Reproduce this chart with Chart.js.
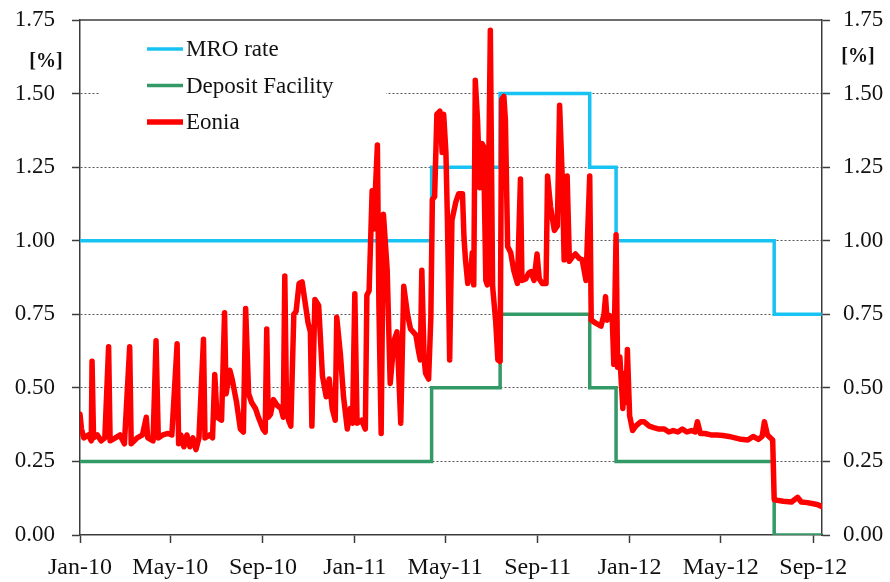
<!DOCTYPE html>
<html>
<head>
<meta charset="utf-8">
<script src="https://cdn.jsdelivr.net/npm/chart.js@4/dist/chart.umd.min.js"></script>
<style>
  html, body { margin: 0; padding: 0; background: #fff; }
  canvas { display: block; }
</style>
</head>
<body>
<canvas id="chart" width="890" height="582"></canvas>
<script>
// x axis: days since 1 Jan 2010
const xTickLabels = ['Jan-10', 'May-10', 'Sep-10', 'Jan-11', 'May-11', 'Sep-11', 'Jan-12', 'May-12', 'Sep-12'];
const yTicks = [0, 0.25, 0.5, 0.75, 1.0, 1.25, 1.5, 1.75];

// ECB policy rate changes
const policyDates = ['2010-01-01', '2011-04-13', '2011-07-13', '2011-11-09', '2011-12-14', '2012-07-11', '2012-09-12'];
const mroRate = [1.00, 1.25, 1.50, 1.25, 1.00, 0.75, 0.75];
const depositRate = [0.25, 0.50, 0.75, 0.50, 0.25, 0.00, 0.00];

// Eonia, [day, %]
const eonia = [
  [0, 0.41], [2, 0.36], [5, 0.33], [11, 0.34], [15, 0.32], [16, 0.59], [18, 0.33], [23, 0.34],
  [28, 0.32], [33, 0.33], [38, 0.64], [40, 0.32], [47, 0.33], [53, 0.34], [59, 0.31], [66, 0.64],
  [68, 0.31], [76, 0.33], [83, 0.34], [88, 0.40], [90, 0.33], [97, 0.32], [101, 0.66], [104, 0.33],
  [110, 0.34], [117, 0.345], [122, 0.34], [129, 0.65], [131, 0.31], [134, 0.34], [138, 0.30], [142, 0.34],
  [146, 0.30], [150, 0.33], [154, 0.29], [158, 0.33], [164, 0.665], [166, 0.33], [172, 0.34], [176, 0.33],
  [179, 0.545], [182, 0.40], [188, 0.39], [192, 0.755], [194, 0.48], [199, 0.56], [202, 0.53], [208, 0.45],
  [213, 0.36], [217, 0.35], [220, 0.77], [224, 0.48], [228, 0.45], [233, 0.43], [237, 0.40], [243, 0.36],
  [246, 0.35], [248, 0.70], [250, 0.40], [253, 0.41], [257, 0.46], [262, 0.44], [267, 0.43], [270, 0.40],
  [272, 0.88], [274, 0.50], [277, 0.39], [280, 0.37], [284, 0.75], [287, 0.76], [291, 0.855], [295, 0.86],
  [299, 0.79], [303, 0.72], [306, 0.69], [308, 0.37], [312, 0.80], [317, 0.78], [322, 0.54], [327, 0.47],
  [331, 0.53], [335, 0.43], [339, 0.39], [341, 0.74], [346, 0.61], [350, 0.47], [355, 0.36], [359, 0.43],
  [362, 0.38], [365, 0.82], [368, 0.38], [374, 0.39], [379, 0.36], [381, 0.815], [384, 0.83], [388, 1.17],
  [390, 1.04], [395, 1.325], [397, 0.78], [400, 0.345], [403, 1.09], [408, 0.90], [412, 0.515], [417, 0.66],
  [421, 0.69], [426, 0.38], [430, 0.845], [435, 0.75], [439, 0.70], [446, 0.68], [450, 0.62], [452, 0.595],
  [454, 0.90], [457, 0.60], [459, 0.55], [463, 0.53], [466, 0.74], [468, 1.14], [471, 1.15], [474, 1.43],
  [478, 1.44], [481, 1.30], [483, 1.43], [486, 1.30], [488, 1.07], [491, 0.595], [494, 1.07], [499, 1.13],
  [503, 1.16], [508, 1.16], [510, 1.01], [512, 0.935], [515, 0.855], [519, 0.89], [521, 0.96], [523, 0.85],
  [525, 1.545], [528, 1.41], [531, 1.18], [534, 1.33], [536, 1.32], [539, 0.865], [541, 0.85], [545, 1.715],
  [548, 0.845], [552, 0.73], [555, 0.595], [558, 0.59], [560, 1.48], [563, 1.49], [565, 1.41], [568, 0.98],
  [572, 0.96], [576, 0.90], [581, 0.855], [585, 1.21], [587, 0.865], [592, 0.87], [596, 0.89], [599, 0.895],
  [603, 0.865], [607, 0.955], [610, 0.87], [614, 0.855], [619, 0.855], [621, 1.22], [625, 1.115], [630, 1.035],
  [634, 1.05], [637, 1.46], [641, 1.18], [643, 0.935], [647, 1.22], [650, 0.93], [654, 0.945], [658, 0.955],
  [663, 0.94], [667, 0.935], [672, 0.865], [677, 1.22], [679, 0.73], [685, 0.72], [692, 0.71], [696, 0.75],
  [698, 0.81], [700, 0.73], [704, 0.745], [707, 0.73], [709, 0.58], [712, 1.02], [714, 0.57], [717, 0.605],
  [721, 0.43], [723, 0.55], [725, 0.45], [727, 0.63], [730, 0.405], [734, 0.355], [738, 0.37], [745, 0.385],
  [749, 0.385], [756, 0.37], [762, 0.365], [769, 0.36], [776, 0.36], [782, 0.35], [788, 0.355], [794, 0.35],
  [800, 0.36], [806, 0.35], [812, 0.355], [817, 0.35], [820, 0.385], [824, 0.345], [830, 0.345], [838, 0.34],
  [846, 0.34], [854, 0.338], [862, 0.335], [870, 0.33], [878, 0.325], [887, 0.323], [894, 0.335], [901, 0.325],
  [906, 0.335], [909, 0.385], [913, 0.34], [920, 0.323], [922, 0.12], [926, 0.118], [934, 0.115], [945, 0.112],
  [953, 0.128], [958, 0.112], [966, 0.11], [974, 0.106], [980, 0.103], [985, 0.097],
];

const MONTHS = ['Jan', 'Feb', 'Mar', 'Apr', 'May', 'Jun', 'Jul', 'Aug', 'Sep', 'Oct', 'Nov', 'Dec'];
const ORIGIN = Date.UTC(2010, 0, 1);
const DAY_MS = 86400000;

function dayFromIso(iso) {
  const [y, m, d] = iso.split('-').map(Number);
  return Math.round((Date.UTC(y, m - 1, d) - ORIGIN) / DAY_MS);
}

function dayFromLabel(label) {
  const [mon, yy] = label.split('-');
  return Math.round((Date.UTC(2000 + Number(yy), MONTHS.indexOf(mon), 1) - ORIGIN) / DAY_MS);
}

const xTickDays = xTickLabels.map(dayFromLabel);
const policyDays = policyDates.map(dayFromIso);

const COLORS = {
  mro: '#17C3F2',
  deposit: '#339966',
  eonia: '#FF0000',
  axis: '#3c3c3c',
  grid: '#5a5a5a',
  text: '#111111',
};

const FONT = 'Liberation Serif';
Chart.defaults.font.family = FONT;
Chart.defaults.color = COLORS.text;

const legendItems = [
  { text: 'MRO rate', color: COLORS.mro, width: 3.5 },
  { text: 'Deposit Facility', color: COLORS.deposit, width: 3.5 },
  { text: 'Eonia', color: COLORS.eonia, width: 5.5 },
];

// Legend box sits inside the plot and hides the 1.50 grid line behind it
const chartDecor = {
  id: 'chartDecor',
  beforeDatasetsDraw(chart) {
    const { ctx, chartArea } = chart;
    ctx.save();
    ctx.fillStyle = '#fff';
    ctx.fillRect(chartArea.left + 20, chartArea.top + 10, 286, 120);
    ctx.strokeStyle = COLORS.axis;
    ctx.lineWidth = 1.5;
    ctx.beginPath();
    ctx.moveTo(chartArea.left, chartArea.top);
    ctx.lineTo(chartArea.right, chartArea.top);
    ctx.stroke();
    ctx.restore();
  },
  afterDraw(chart) {
    const { ctx, chartArea } = chart;
    ctx.save();
    ctx.font = `23px "${FONT}"`;
    ctx.textBaseline = 'middle';
    ctx.textAlign = 'left';
    legendItems.forEach((item, i) => {
      const y = chartArea.top + 29 + i * 36.5;
      const x0 = chartArea.left + 67;
      ctx.strokeStyle = item.color;
      ctx.lineWidth = item.width;
      ctx.beginPath();
      ctx.moveTo(x0, y);
      ctx.lineTo(x0 + 36, y);
      ctx.stroke();
      ctx.fillStyle = COLORS.text;
      ctx.fillText(item.text, x0 + 39, y + 1);
    });

    // [%] unit labels on both sides
    ctx.font = `bold 20px "${FONT}"`;
    ctx.textAlign = 'center';
    ctx.fillText('[%]', 46, 62);
    ctx.fillText('[%]', 858, 57);
    ctx.restore();
  },
};

const yAxisCommon = {
  type: 'linear',
  min: 0,
  max: 1.75,
  afterBuildTicks(axis) {
    axis.ticks = yTicks.map((v) => ({ value: v }));
  },
  ticks: {
    font: { size: 23 },
    color: COLORS.text,
    callback: (v) => Number(v).toFixed(2),
  },
  border: { color: COLORS.axis, width: 1.5, dash: [2, 2] },
};

new Chart(document.getElementById('chart'), {
  type: 'line',
  data: {
    datasets: [
      {
        label: 'Eonia',
        data: eonia.map(([d, v]) => ({ x: d, y: v })),
        borderColor: COLORS.eonia,
        borderWidth: 5.5,
        borderJoinStyle: 'round',
        borderCapStyle: 'round',
        pointRadius: 0,
        tension: 0,
        order: 0,
      },
      {
        label: 'Deposit Facility',
        data: policyDays.map((d, i) => ({ x: d, y: depositRate[i] })),
        borderColor: COLORS.deposit,
        borderWidth: 3.5,
        stepped: 'before',
        pointRadius: 0,
        order: 1,
      },
      {
        label: 'MRO rate',
        data: policyDays.map((d, i) => ({ x: d, y: mroRate[i] })),
        borderColor: COLORS.mro,
        borderWidth: 3.5,
        stepped: 'before',
        pointRadius: 0,
        order: 2,
      },
    ],
  },
  options: {
    responsive: false,
    animation: false,
    layout: { padding: { top: 20, left: 0, right: 0, bottom: 0 } },
    plugins: {
      legend: { display: false },
      tooltip: { enabled: false },
    },
    scales: {
      x: {
        type: 'linear',
        min: 0,
        max: 985.5,
        afterBuildTicks(axis) {
          axis.ticks = xTickDays.map((v) => ({ value: v }));
        },
        afterFit(scale) {
          scale.height = 47;
          scale.paddingLeft = 0;
          scale.paddingRight = 0;
        },
        ticks: {
          autoSkip: false,
          maxRotation: 0,
          padding: 10,
          font: { size: 24 },
          color: COLORS.text,
          callback: (v, i) => xTickLabels[i],
        },
        grid: {
          drawOnChartArea: false,
          tickLength: 8,
          tickColor: COLORS.axis,
          tickWidth: 1.5,
        },
        border: { color: COLORS.axis, width: 1.5 },
      },
      y: {
        ...yAxisCommon,
        position: 'left',
        afterFit(scale) {
          scale.width = 80;
          scale.paddingTop = 0;
          scale.paddingBottom = 0;
        },
        ticks: { ...yAxisCommon.ticks, padding: 17 },
        grid: {
          tickLength: 8,
          tickColor: COLORS.axis,
          tickWidth: 1.5,
          lineWidth: 1,
          color: (ctx) => (ctx.tick && (ctx.tick.value === 0 || ctx.tick.value === 1.75) ? 'rgba(0,0,0,0)' : COLORS.grid),
        },
      },
      y2: {
        ...yAxisCommon,
        position: 'right',
        afterFit(scale) {
          scale.width = 68;
          scale.paddingTop = 0;
          scale.paddingBottom = 0;
        },
        ticks: { ...yAxisCommon.ticks, padding: 13 },
        grid: {
          drawOnChartArea: false,
          tickLength: 8,
          tickColor: COLORS.axis,
          tickWidth: 1.5,
        },
      },
    },
  },
  plugins: [chartDecor],
});
</script>
</body>
</html>
